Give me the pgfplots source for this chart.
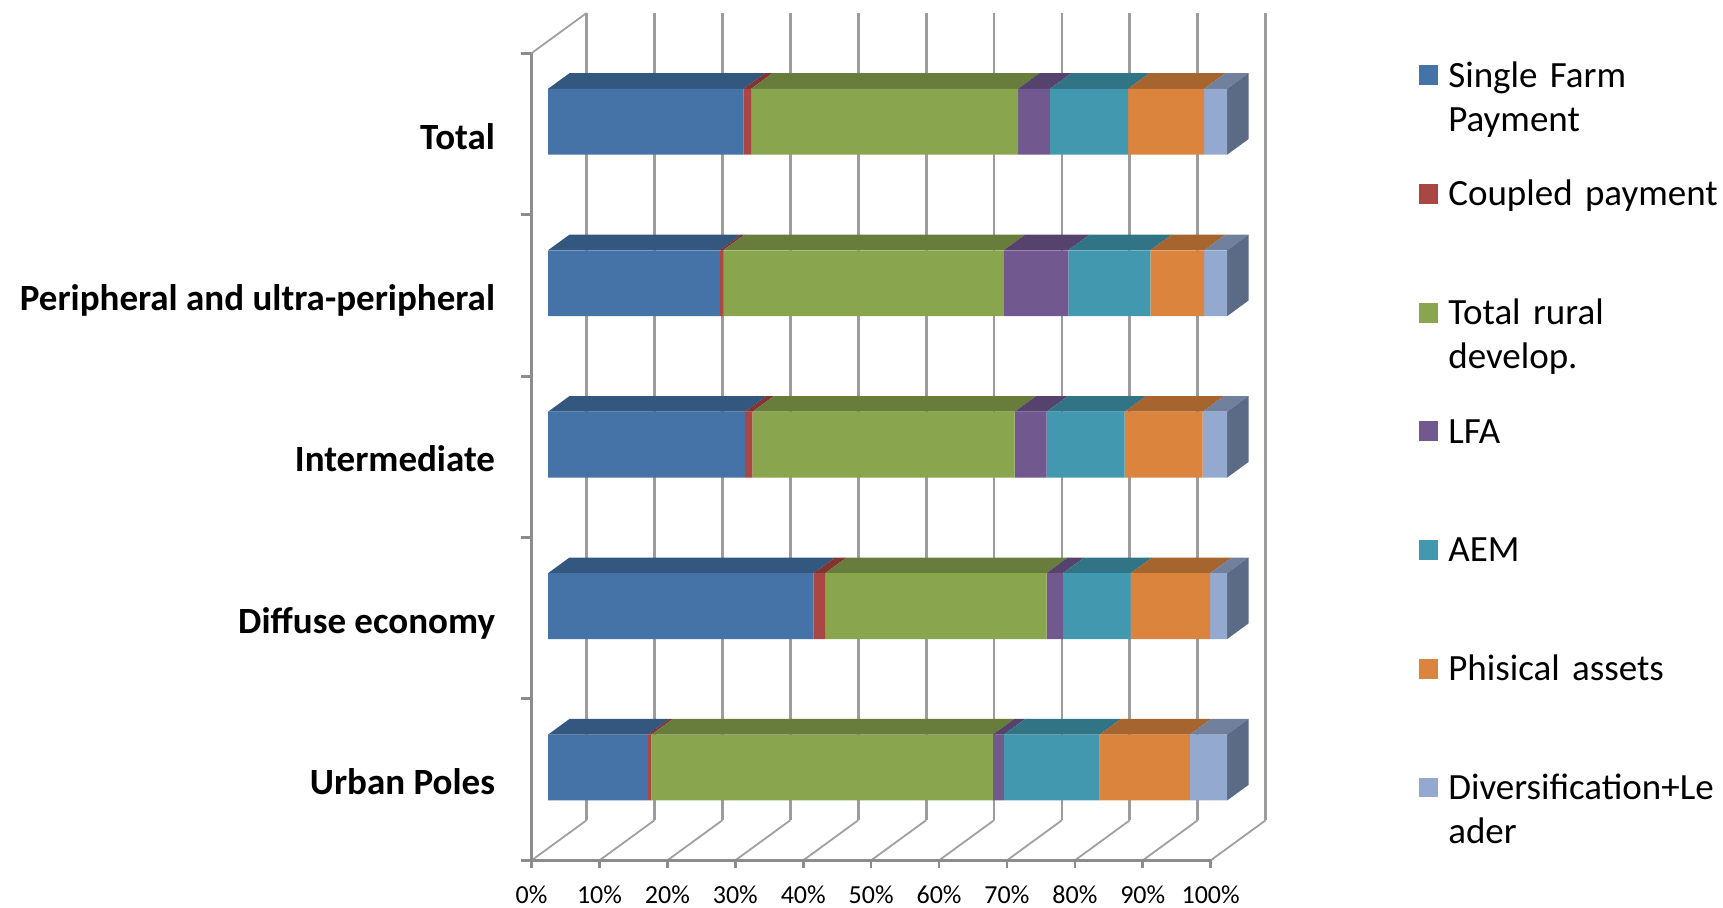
\documentclass[border=0pt]{standalone}
\usepackage{pgfplots}
\pgfplotsset{compat=1.18}
\usepackage{pgfplotstable}
\usepackage{fontspec}
\setmainfont{Carlito}

% front faces
\definecolor{cSFP}{HTML}{4572A7}
\definecolor{cCP}{HTML}{AA4643}
\definecolor{cTRD}{HTML}{89A54E}
\definecolor{cLFA}{HTML}{71588F}
\definecolor{cAEM}{HTML}{4198AF}
\definecolor{cPA}{HTML}{DB843D}
\definecolor{cDL}{HTML}{93A9CF}
% top faces
\definecolor{topSFP}{HTML}{34577F}
\definecolor{topCP}{HTML}{813533}
\definecolor{topTRD}{HTML}{687D3B}
\definecolor{topLFA}{HTML}{56436D}
\definecolor{topAEM}{HTML}{317485}
\definecolor{topPA}{HTML}{A6642E}
\definecolor{topDL}{HTML}{70809D}
\definecolor{sideDL}{HTML}{5B6A85}
% walls
\definecolor{gridc}{HTML}{9C9C9C}
\definecolor{axisc}{HTML}{8C8C8C}
\definecolor{diagc}{HTML}{A0A0A0}

% shares (%) by area type; y: 0 = Urban Poles ... 4 = Total
\pgfplotstableread{
y SFP CP TRD LFA AEM PA DL
0 14.7 0.5 50.3 1.6 14.1 13.3 5.5
1 39.1 1.7 32.6 2.4 10.0 11.7 2.5
2 29.0 1.1 38.6 4.7 11.5 11.5 3.6
3 25.3 0.5 41.3 9.5 12.1 7.9 3.4
4 28.8 1.1 39.3 4.7 11.5 11.2 3.4
}\datatable

\pgfplotsset{
  leg/.style={legend image code/.code={\fill[##1,draw=none] (0pt,1pt) rectangle (9.9pt,10.9pt);}},
}

\begin{document}
\begin{tikzpicture}
\useasboundingbox (0,0) rectangle (861.5pt,453.8pt);
% ---------- walls, floor, top and side faces ----------
\begin{axis}[
  at={(260.7pt,15.55pt)}, anchor=south west,
  scale only axis, width=375.2pt, height=435.9pt,
  xmin=-1.5, xmax=109, ymin=-0.6, ymax=4.8,
  enlargelimits=false, clip=false,
  axis line style={draw=none},
  major tick length=0pt,
  xtick={0,10,...,100},
  xticklabels={0\%,10\%,20\%,30\%,40\%,50\%,60\%,70\%,80\%,90\%,100\%},
  xticklabel style={font=\fontsize{13}{15}\selectfont, anchor=base, inner sep=0pt, yshift=-13.6pt},
  ytick={0,...,4},
  yticklabels={Urban Poles,Diffuse economy,Intermediate,Peripheral and ultra-peripheral,Total},
  yticklabel style={font=\fontsize{18.5}{22}\selectfont\bfseries, anchor=base east, inner sep=0pt, xshift=-13.0pt, yshift=-7.6pt},
]
\foreach \i in {0,10,...,100}{%
  \pgfmathsetmacro\xb{\i+8.1}%
  \edef\tmp{%
    \noexpand\addplot[gridc, line width=1.4pt, forget plot] coordinates {(\xb,-0.2515) (\xb,4.7485)};%
    \noexpand\addplot[diagc, line width=0.9pt, forget plot] coordinates {(\i,-0.5) (\xb,-0.2515)};%
    \noexpand\addplot[axisc, line width=1.3pt, forget plot] coordinates {(\i,-0.5) (\i,-0.548)};%
  }\tmp
}
\foreach \j in {-0.5,0.5,1.5,2.5,3.5,4.5}{%
  \edef\tmp{\noexpand\addplot[axisc, line width=1.5pt, forget plot] coordinates {(-1.6,\j) (0,\j)};}\tmp
}
\addplot[axisc, line width=1.7pt, forget plot] coordinates {(0,-0.5) (0,4.5)};
\addplot[axisc, line width=1.7pt, forget plot] coordinates {(-1.6,-0.5) (100,-0.5)};
\addplot[diagc, line width=0.9pt, forget plot] coordinates {(0,4.5) (8.1,4.7485)};
% top faces and right side face of each bar, from the table
\foreach \r in {0,...,4}{%
  \xdef\cum{0}%
  \foreach \c in {SFP,CP,TRD,LFA,AEM,PA,DL}{%
    \pgfplotstablegetelem{\r}{\c}\of\datatable
    \pgfmathsetmacro\xa{\cum+2.43}%
    \pgfmathsetmacro\cumn{\cum+\pgfplotsretval}%
    \xdef\cum{\cumn}%
    \pgfmathsetmacro\xbb{\cumn+2.43}%
    \pgfmathsetmacro\xc{\xbb+3.15}%
    \pgfmathsetmacro\xd{\xa+3.15}%
    \pgfmathsetmacro\ya{\r+0.279}%
    \pgfmathsetmacro\yb{\r+0.3757}%
    \edef\tmp{\noexpand\addplot[fill=top\c, draw=none, forget plot] coordinates {(\xa,\ya) (\xbb,\ya) (\xc,\yb) (\xd,\yb)};}\tmp
  }%
  \pgfmathsetmacro\xa{\cum+2.43}%
  \pgfmathsetmacro\xc{\xa+3.15}%
  \pgfmathsetmacro\ya{\r-0.129}%
  \pgfmathsetmacro\yb{\r+0.279}%
  \pgfmathsetmacro\yc{\r+0.3757}%
  \pgfmathsetmacro\yd{\r-0.0323}%
  \edef\tmp{\noexpand\addplot[fill=sideDL, draw=none, forget plot] coordinates {(\xa,\ya) (\xa,\yb) (\xc,\yc) (\xc,\yd)};}\tmp
}
\end{axis}
% ---------- front faces of the stacked bars ----------
\begin{axis}[
  at={(268.94pt,21.59pt)}, anchor=south west,
  scale only axis, width=375.2pt, height=435.9pt,
  xmin=-1.5, xmax=109, ymin=-0.6, ymax=4.8,
  enlargelimits=false, clip=false,
  hide axis,
  xbar stacked, bar width=0.408,
  legend style={at={(axis description cs:1.1737,0.9213)}, anchor=north west,
    draw=none, fill=none, inner sep=0pt, outer sep=0pt,
    row sep=0pt, column sep=4.94pt,
    font=\fontsize{18.5}{22}\selectfont,
    nodes={inner sep=0pt, text width=140pt, align=left, text height=13pt, text depth=46.34pt, anchor=base west}},
]
\addplot[fill=cSFP, draw=none, leg] table[x=SFP, y=y] {\datatable};
\addlegendentry{Single Farm\\Payment}
\addplot[fill=cCP, draw=none, leg] table[x=CP, y=y] {\datatable};
\addlegendentry{Coupled payment}
\addplot[fill=cTRD, draw=none, leg] table[x=TRD, y=y] {\datatable};
\addlegendentry{Total rural\\develop.}
\addplot[fill=cLFA, draw=none, leg] table[x=LFA, y=y] {\datatable};
\addlegendentry{LFA}
\addplot[fill=cAEM, draw=none, leg] table[x=AEM, y=y] {\datatable};
\addlegendentry{AEM}
\addplot[fill=cPA, draw=none, leg] table[x=PA, y=y] {\datatable};
\addlegendentry{Phisical assets}
\addplot[fill=cDL, draw=none, leg] table[x=DL, y=y] {\datatable};
\addlegendentry{Diversification+Le\\ader}
\end{axis}
\end{tikzpicture}
\end{document}
